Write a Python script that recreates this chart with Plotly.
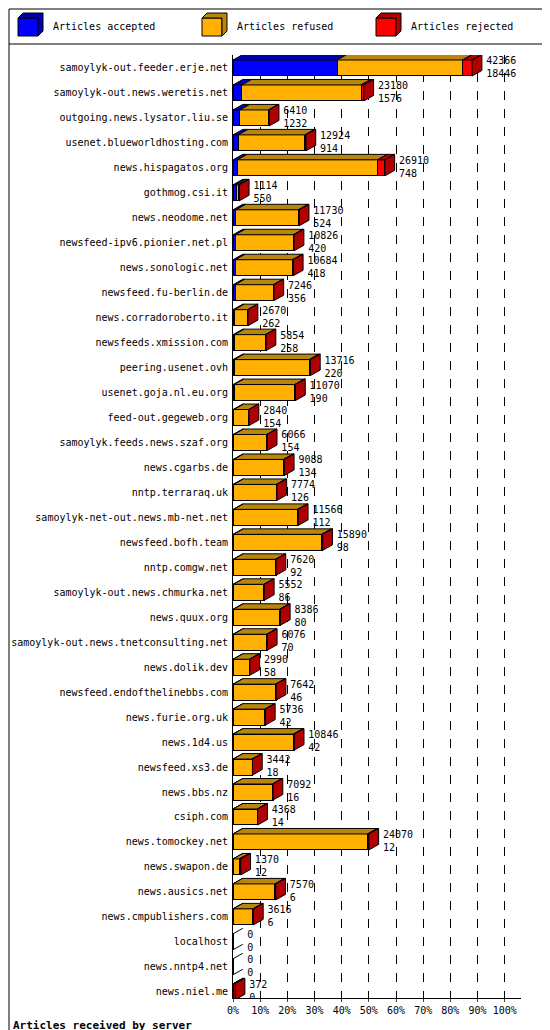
import plotly.graph_objects as go

servers = [
    "samoylyk-out.feeder.erje.net", "samoylyk-out.news.weretis.net", "outgoing.news.lysator.liu.se",
    "usenet.blueworldhosting.com", "news.hispagatos.org", "gothmog.csi.it", "news.neodome.net",
    "newsfeed-ipv6.pionier.net.pl", "news.sonologic.net", "newsfeed.fu-berlin.de",
    "news.corradoroberto.it", "newsfeeds.xmission.com", "peering.usenet.ovh", "usenet.goja.nl.eu.org",
    "feed-out.gegeweb.org", "samoylyk.feeds.news.szaf.org", "news.cgarbs.de", "nntp.terraraq.uk",
    "samoylyk-net-out.news.mb-net.net", "newsfeed.bofh.team", "nntp.comgw.net",
    "samoylyk-out.news.chmurka.net", "news.quux.org", "samoylyk-out.news.tnetconsulting.net",
    "news.dolik.dev", "newsfeed.endofthelinebbs.com", "news.furie.org.uk", "news.1d4.us",
    "newsfeed.xs3.de", "news.bbs.nz", "csiph.com", "news.tomockey.net", "news.swapon.de",
    "news.ausics.net", "news.cmpublishers.com", "localhost", "news.nntp4.net", "news.niel.me",
]
offered = [42366, 23180, 6410, 12924, 26910, 1114, 11730, 10826, 10684, 7246, 2670, 5854, 13716,
           11070, 2840, 6066, 9088, 7774, 11566, 15890, 7620, 5552, 8386, 6076, 2990, 7642, 5736,
           10846, 3442, 7092, 4368, 24070, 1370, 7570, 3616, 0, 0, 372]
accepted = [18446, 1576, 1232, 914, 748, 550, 524, 420, 418, 356, 262, 258, 220, 190, 154, 154,
            134, 126, 112, 98, 92, 86, 80, 70, 58, 46, 42, 42, 18, 16, 14, 12, 12, 6, 6, 0, 0, 0]
rejected = [1700, 500, 120, 200, 1300, 150, 150, 150, 150, 120, 60, 120, 200, 150, 60, 100, 150,
            120, 150, 200, 120, 100, 150, 100, 60, 120, 100, 150, 60, 120, 80, 250, 250, 150, 80,
            0, 0, 340]

n = len(servers)
top = max(offered)
scale = 88.0 / top
ys = [n - 1 - i for i in range(n)]
acc_x = [a * scale for a in accepted]
rej_x = [r * scale for r in rejected]
ref_x = [max(o - a - r, 0) * scale for o, a, r in zip(offered, accepted, rejected)]
end_x = [o * scale for o in offered]

H = 0.64   # bar thickness (y units)
DX = 3.6   # depth offset x
DY = 0.22  # depth offset y

BLUE, GOLD, RED = "#0000ff", "#ffb000", "#ff0000"
BLUE_D, GOLD_D, RED_D = "#0000b0", "#b8860b", "#b00000"
font = "DejaVu Sans Mono"

fig = go.Figure()
common = dict(orientation="h", width=H, marker_line=dict(color="black", width=1), hoverinfo="skip")
fig.add_trace(go.Bar(y=ys, x=acc_x, marker_color=BLUE, **common))
fig.add_trace(go.Bar(y=ys, x=ref_x, marker_color=GOLD, **common))
fig.add_trace(go.Bar(y=ys, x=rej_x, marker_color=RED, **common))


def add_poly(xs, yy, color):
    fig.add_trace(go.Scatter(x=xs, y=yy, mode="lines", fill="toself", fillcolor=color,
                             line=dict(color="black", width=1), hoverinfo="skip"))


# top faces per segment and side face of last segment
segs = {BLUE_D: ([], []), GOLD_D: ([], []), RED_D: ([], [])}
side = ([], [])
empty = ([], [])
for y, a, f, r, e in zip(ys, acc_x, ref_x, rej_x, end_x):
    yt = y + H / 2
    yb = y - H / 2
    if e == 0:
        empty[0].extend([0, DX, None, 0, DX, None])
        empty[1].extend([yt, yt + DY, None, yb, yb + DY, None])
        continue
    start = 0
    for w, c in ((a, BLUE_D), (f, GOLD_D), (r, RED_D)):
        if w > 0:
            x0, x1 = start, start + w
            segs[c][0].extend([x0, x1, x1 + DX, x0 + DX, x0, None])
            segs[c][1].extend([yt, yt, yt + DY, yt + DY, yt, None])
            start = x1
    side[0].extend([e, e + DX, e + DX, e, e, None])
    side[1].extend([yb, yb + DY, yt + DY, yt, yb, None])
for c, (xs, yy) in segs.items():
    add_poly(xs, yy, c)
add_poly(side[0], side[1], RED_D)
fig.add_trace(go.Scatter(x=empty[0], y=empty[1], mode="lines",
                         line=dict(color="black", width=1), hoverinfo="skip"))

fig.add_trace(go.Scatter(
    x=[e + DX + 1.6 for e in end_x], y=ys, mode="text",
    text=[f"{o}<br>{a}" for o, a in zip(offered, accepted)],
    textposition="middle right", textfont=dict(family=font, size=10, color="black"),
    hoverinfo="skip"))

W, HT = 550, 1030
ml, mr, mt, mb = 225, 37, 47, 40
ph = HT - mt - mb
pw = W - ml - mr


def px(x):
    return (x - ml) / pw


def py(y):
    return (HT - mb - y) / ph


shapes = [
    dict(type="rect", xref="paper", yref="paper", x0=px(1), x1=px(W - 1), y0=py(HT - 1), y1=py(1),
         line=dict(color="black", width=1)),
    dict(type="line", xref="paper", yref="paper", x0=px(1), x1=px(W - 1), y0=py(36), y1=py(36),
         line=dict(color="black", width=1)),
]
annotations = []
for lx, col, dark, label in ((10, BLUE, BLUE_D, "Articles accepted"),
                             (194, GOLD, GOLD_D, "Articles refused"),
                             (368, RED, RED_D, "Articles rejected")):
    shapes.append(dict(type="rect", xref="paper", yref="paper", x0=px(lx), x1=px(lx + 20),
                       y0=py(28), y1=py(10), fillcolor=col, line=dict(color="black", width=1)))
    shapes.append(dict(type="path", xref="paper", yref="paper",
                       path=f"M {px(lx+20)},{py(28)} L {px(lx+25)},{py(23)} L {px(lx+25)},{py(5)} "
                            f"L {px(lx+5)},{py(5)} L {px(lx)},{py(10)} L {px(lx+20)},{py(10)} Z",
                       fillcolor=dark, line=dict(color="black", width=1)))
    annotations.append(dict(xref="paper", yref="paper", x=px(lx + 33), y=py(19), text=label,
                            showarrow=False, xanchor="left", yanchor="middle",
                            font=dict(family=font, size=10, color="black")))
annotations.append(dict(xref="paper", yref="paper", x=px(3), y=py(1017),
                        text="<b>Articles received by server</b>", showarrow=False,
                        xanchor="left", yanchor="middle", font=dict(family=font, size=11, color="black")))

fig.update_layout(
    width=W, height=HT, barmode="stack", showlegend=False,
    paper_bgcolor="white", plot_bgcolor="white",
    margin=dict(l=ml, r=mr, t=mt, b=mb, pad=0, autoexpand=False),
    font=dict(family=font, size=10, color="black"),
    shapes=shapes, annotations=annotations,
    xaxis=dict(range=[0, 106], tickvals=list(range(0, 101, 10)),
               ticktext=[f"{v}%" for v in range(0, 101, 10)], automargin=False,
               showgrid=True, gridcolor="black", griddash="dash", gridwidth=1,
               showline=True, linecolor="black", zeroline=False, ticks="outside", ticklen=3,
               tickfont=dict(family=font, size=10)),
    yaxis=dict(range=[-0.25, n - 1 + 0.52], tickvals=ys, ticktext=servers, automargin=False,
               showline=True, linecolor="black", showgrid=False, zeroline=False,
               ticks="", ticklabelstandoff=2, tickfont=dict(family=font, size=10)),
)

fig.write_html("out.html")
